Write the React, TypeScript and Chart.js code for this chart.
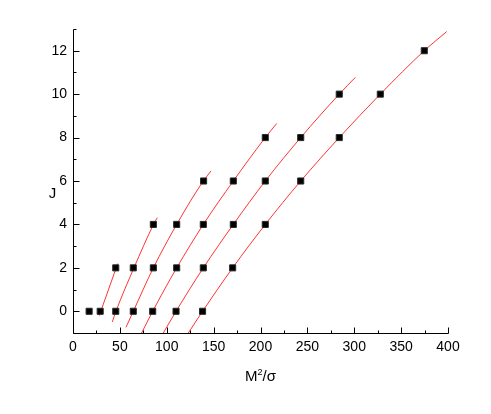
import React, { useEffect, useRef } from "react";
import { Chart, registerables } from "chart.js";

Chart.register(...registerables);

// Data points (x = M^2/sigma) for each J row
const rowJ0X = [17.2, 29.0, 45.6, 64.3, 85.0, 109.9, 138.2];
const rowJ2X = [45.6, 64.3, 85.7, 110.6, 139.0, 170.3];
const rowJ4X = [85.7, 110.6, 139.0, 171.0, 205.1];
const rowJ6X = [139.3, 171.0, 205.1, 242.9];
const rowJ8X = [205.1, 242.9, 284.0];
const rowJ10X = [284.0, 327.8];
const rowJ12X = [374.7];
const rowJ = [0, 2, 4, 6, 8, 10, 12];

// Fitted trajectory curves (x values and J values)
const curveAX = [28.0, 47.7];
const curveAJ = [-0.2, 2.2];
const curveBX = [41.9, 45.8, 65.0, 85.9, 89.9];
const curveBJ = [-0.49, 0, 2, 4, 4.31];
const curveCX = [56.5, 64.3, 85.7, 110.6, 139.0, 147.2];
const curveCJ = [-0.74, 0, 2, 4, 6, 6.46];
const curveDX = [73.2, 85.0, 110.6, 139.0, 171.0, 205.1, 217.3];
const curveDJ = [-1, 0, 2, 4, 6, 8, 8.65];
const curveEX = [96.3, 109.9, 139.0, 171.0, 205.1, 242.9, 284.0, 301.1];
const curveEJ = [-1, 0, 2, 4, 6, 8, 10, 10.77];
const curveFX = [123.0, 138.2, 170.3, 205.1, 242.9, 284.0, 327.8, 374.7, 398.6];
const curveFJ = [-1, 0, 2, 4, 6, 8, 10, 12, 12.88];

const xMajorTicks = [0, 50, 100, 150, 200, 250, 300, 350, 400];
const xMinorTicks = [25, 75, 125, 175, 225, 275, 325, 375];
const yMajorTicks = [0, 2, 4, 6, 8, 10, 12];
const yMinorTicks = [-1, 1, 3, 5, 7, 9, 11, 13];

const FONT = "'Liberation Sans', Arial, Helvetica, sans-serif";

export default function App() {
  const ref = useRef<HTMLCanvasElement | null>(null);

  useEffect(() => {
    if (!ref.current) return;
    const rows = [rowJ0X, rowJ2X, rowJ4X, rowJ6X, rowJ8X, rowJ10X, rowJ12X];
    const curves: [number[], number[]][] = [
      [curveAX, curveAJ],
      [curveBX, curveBJ],
      [curveCX, curveCJ],
      [curveDX, curveDJ],
      [curveEX, curveEJ],
      [curveFX, curveFJ],
    ];

    const lineSets = curves.map(([xs, js]) => ({
      type: "line" as const,
      data: xs.map((x, i) => ({ x, y: js[i] })),
      borderColor: "rgba(255,0,0,0.8)",
      borderWidth: 1,
      pointRadius: 0,
      showLine: true,
      fill: false,
      cubicInterpolationMode: "monotone" as const,
      order: 2,
    }));

    const pointSets = rows.map((xs, i) => ({
      type: "scatter" as const,
      data: xs.map((x) => ({ x, y: rowJ[i] })),
      pointStyle: "rect",
      pointRadius: 4.3,
      backgroundColor: "#000",
      borderColor: "#2a2a2a",
      borderWidth: 1,
      showLine: false,
      order: 1,
    }));

    const axesPlugin = {
      id: "customAxes",
      afterDraw(chart: any) {
        const { ctx, scales } = chart;
        const x = scales.x;
        const y = scales.y;
        const bottom = Math.round(y.getPixelForValue(-1)) + 0.5;
        const left = Math.round(x.getPixelForValue(0)) + 0.5;
        const right = Math.round(x.getPixelForValue(400)) + 0.5;
        const top = Math.round(y.getPixelForValue(13)) + 0.5;
        ctx.save();
        ctx.strokeStyle = "#000";
        ctx.lineWidth = 1;
        ctx.beginPath();
        ctx.moveTo(left, top);
        ctx.lineTo(left, bottom);
        ctx.moveTo(left, bottom);
        ctx.lineTo(right, bottom);
        xMajorTicks.forEach((v) => {
          const p = Math.round(x.getPixelForValue(v)) + 0.5;
          ctx.moveTo(p, bottom);
          ctx.lineTo(p, bottom - 6);
        });
        xMinorTicks.forEach((v) => {
          const p = Math.round(x.getPixelForValue(v)) + 0.5;
          ctx.moveTo(p, bottom);
          ctx.lineTo(p, bottom - 3);
        });
        yMajorTicks.forEach((v) => {
          const p = Math.round(y.getPixelForValue(v)) + 0.5;
          ctx.moveTo(left, p);
          ctx.lineTo(left + 6, p);
        });
        yMinorTicks.forEach((v) => {
          const p = Math.round(y.getPixelForValue(v)) + 0.5;
          ctx.moveTo(left, p);
          ctx.lineTo(left + 3, p);
        });
        ctx.stroke();

        // Titles
        ctx.fillStyle = "#000";
        ctx.textBaseline = "alphabetic";
        ctx.font = `15px ${FONT}`;
        ctx.textAlign = "center";
        ctx.fillText("J", 52.5, 197.5);

        const cx = (x.left + x.right) / 2;
        ctx.font = `15px ${FONT}`;
        const wM = ctx.measureText("M").width;
        const wRest = ctx.measureText("/σ").width;
        ctx.font = `9px ${FONT}`;
        const w2 = ctx.measureText("2").width;
        const total = wM + w2 + wRest;
        let sx = cx - total / 2;
        const base = 381;
        ctx.textAlign = "left";
        ctx.font = `15px ${FONT}`;
        ctx.fillText("M", sx, base);
        sx += wM;
        ctx.font = `9px ${FONT}`;
        ctx.fillText("2", sx, base - 6.5);
        sx += w2;
        ctx.font = `15px ${FONT}`;
        ctx.fillText("/σ", sx, base);
        ctx.restore();
      },
    };

    const chart = new Chart(ref.current, {
      type: "scatter",
      data: { datasets: [...pointSets, ...lineSets] as any },
      options: {
        animation: false,
        responsive: true,
        maintainAspectRatio: false,
        layout: { padding: { left: 0, top: 29, right: 43, bottom: 0 } },
        plugins: { legend: { display: false }, tooltip: { enabled: false } },
        scales: {
          x: {
            type: "linear",
            min: 0,
            max: 400,
            afterFit: (s: any) => {
              s.height = 81;
            },
            afterBuildTicks: (s: any) => {
              s.ticks = xMajorTicks.map((v) => ({ value: v }));
            },
            grid: { display: false, drawTicks: false },
            border: { display: false },
            ticks: {
              autoSkip: false,
              maxRotation: 0,
              padding: 6,
              color: "#000",
              font: { family: FONT, size: 14 },
              callback: (v: any) => String(v),
            },
          },
          y: {
            type: "linear",
            min: -1,
            max: 13,
            afterFit: (s: any) => {
              s.width = 73;
            },
            afterBuildTicks: (s: any) => {
              s.ticks = yMajorTicks.map((v) => ({ value: v }));
            },
            grid: { display: false, drawTicks: false },
            border: { display: false },
            ticks: {
              autoSkip: false,
              padding: 6,
              color: "#000",
              font: { family: FONT, size: 14 },
              callback: (v: any) => String(v),
            },
          },
        },
      },
      plugins: [axesPlugin],
    });
    return () => chart.destroy();
  }, []);

  return (
    <div style={{ position: "fixed", left: 0, top: 0, width: 491, height: 414, background: "#fff" }}>
      <canvas ref={ref} />
    </div>
  );
}
